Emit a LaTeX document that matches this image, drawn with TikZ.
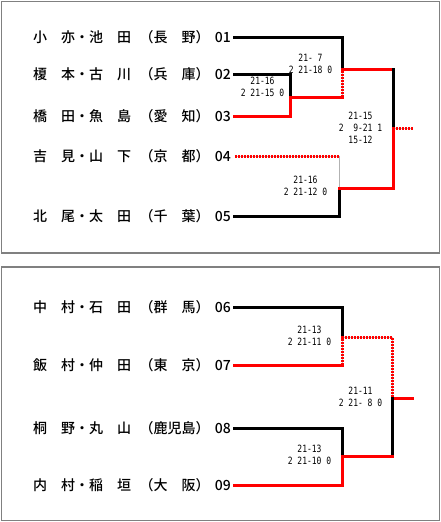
\documentclass[tikz,border=0pt]{standalone}
\usepackage{fontspec}
\newfontfamily\jpfont{Noto Sans CJK JP Medium}
\newfontfamily\scorefont[FakeStretch=0.8]{DejaVu Sans Mono}
\usetikzlibrary{positioning,calc}

\begin{document}
\begin{tikzpicture}[x=1pt, y=-1pt,
	player/.style={anchor=west, inner sep=0pt, font=\jpfont\fontsize{14}{16}\selectfont},
	entry/.style={inner sep=2pt, outer sep=2pt, font=\jpfont\fontsize{14}{16}\selectfont},
	score/.style={align=center, inner sep=0pt, font=\scorefont\fontsize{10}{12}\selectfont},
	loser/.style={line width=3pt, line cap=rect},
	winner/.style={red, line width=3pt, line cap=rect},
	windot/.style={red, line width=3pt, dash pattern=on 2pt off 1pt, preaction={draw=gray!50, solid}},
	rule/.style={gray!60, line width=1pt},
	panel/.style={draw=gray, line width=1.5pt}]
	\useasboundingbox (0,0) rectangle (441,522);
	\draw[panel] (1.5,1.5) rectangle (439.5,253);
	\draw[panel] (1.5,267) rectangle (439.5,520.5);

	\node[player] (p01) at (33,37.5) {小　亦・池　田};
	\node[player, right=8pt of p01] (r01) {（長　野）};
	\node[entry, right=1pt of r01] (n01) {01};
	\node[player] (p02) at (33,74) {榎　本・古　川};
	\node[player, right=8pt of p02] (r02) {（兵　庫）};
	\node[entry, right=1pt of r02] (n02) {02};
	\node[player] (p03) at (33,116) {橋　田・魚　島};
	\node[player, right=8pt of p03] (r03) {（愛　知）};
	\node[entry, right=1pt of r03] (n03) {03};
	\node[player] (p04) at (33,156) {吉　見・山　下};
	\node[player, right=8pt of p04] (r04) {（京　都）};
	\node[entry, right=1pt of r04] (n04) {04};
	\node[player] (p05) at (33,216) {北　尾・太　田};
	\node[player, right=8pt of p05] (r05) {（千　葉）};
	\node[entry, right=1pt of r05] (n05) {05};

	\node[player] (p06) at (33,307) {中　村・石　田};
	\node[player, right=8pt of p06] (r06) {（群　馬）};
	\node[entry, right=1pt of r06] (n06) {06};
	\node[player] (p07) at (33,365) {飯　村・仲　田};
	\node[player, right=8pt of p07] (r07) {（東　京）};
	\node[entry, right=1pt of r07] (n07) {07};
	\node[player] (p08) at (33,428) {桐　野・丸　山};
	\node[player, right=8pt of p08] (r08) {（鹿児島）};
	\node[entry, right=1pt of r08] (n08) {08};
	\node[player] (p09) at (33,485.5) {内　村・稲　垣};
	\node[player, right=8pt of p09] (r09) {（大　阪）};
	\node[entry, right=1pt of r09] (n09) {09};

	\coordinate (q23) at (290,97);
	\coordinate (w23) at (342,97);
	\coordinate (s1) at (342,69);
	\coordinate (q45) at (339,188);
	\coordinate (f1) at (393,69);
	\coordinate (f2) at (393,188);
	\coordinate (fm) at (393,128);
	\coordinate (champA) at (413,128);

	\draw[loser] (n01.east) -| (s1);
	\draw[loser] (n02.east) -| (q23);
	\draw[winner] (n03.east) -| (q23) -- (w23);
	\draw[windot] (w23) -- (s1);
	\draw[winner] (s1) -- (f1);
	\draw[loser] (f1) -- (fm);
	\draw[windot] (n04.east) -- (n04.east -| q45);
	\draw[rule] (n04.east -| q45) -- (q45);
	\draw[loser] (n05.east) -| (q45);
	\draw[winner] (q45) -- (f2) -- (fm);
	\draw[windot] (fm) -- (champA);

	\coordinate (b1) at (342,337.5);
	\coordinate (b2) at (342,456.5);
	\coordinate (g1) at (392,337.5);
	\coordinate (g2) at (392,456.5);
	\coordinate (gm) at (392,398);
	\coordinate (champB) at (412,398);

	\draw[loser] (n06.east) -| (b1);
	\draw[winner] (n07.east) -- (n07.east -| b1);
	\draw[windot] (n07.east -| b1) -- (b1) -- (g1) -- (gm);
	\draw[winner] (gm) -- (champB);
	\draw[loser] (gm) -- (g2);
	\draw[loser] (n08.east) -| (b2);
	\draw[winner] (n09.east) -| (b2) -- (g2);

	\node[score] (sc23) at (262.5,87) {21-16\\2~21-15~0};
	\node[score] (sc1) at (310.5,63.5) {21-~7\\2~21-18~0};
	\node[score] (scf) at (360.5,128) {21-15\\2~~9-21~1\\15-12};
	\node[score] (sc45) at (305.5,186) {21-16\\2~21-12~0};
	\node[score] (sc67) at (309.5,336) {21-13\\2~21-11~0};
	\node[score] (scg) at (360.5,397) {21-11\\2~21-~8~0};
	\node[score] (sc89) at (309.5,455) {21-13\\2~21-10~0};
\end{tikzpicture}
\end{document}
